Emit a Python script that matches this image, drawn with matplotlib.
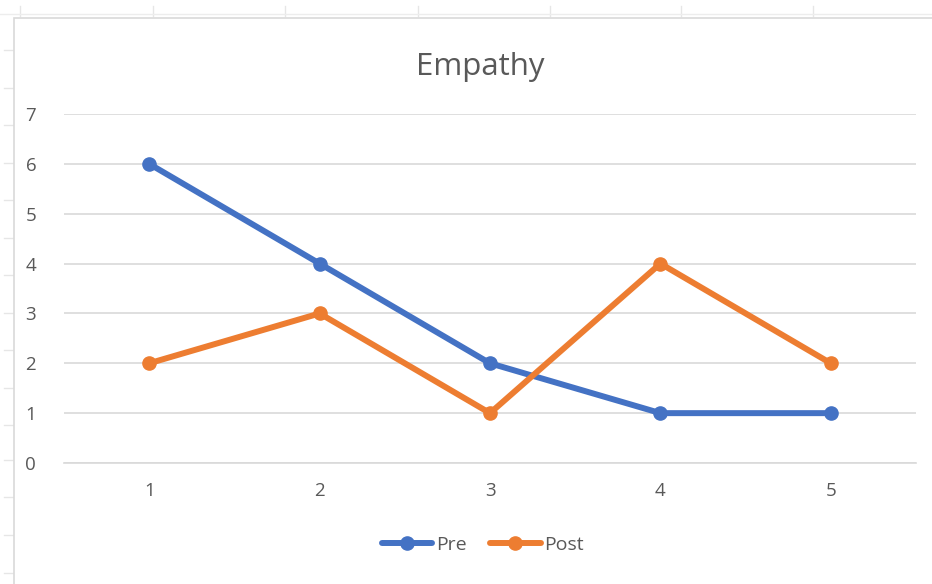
"""Empathy pre/post line chart, Excel style."""

import matplotlib
matplotlib.use("Agg")
import matplotlib.pyplot as plt
from matplotlib.lines import Line2D
from matplotlib.patches import Rectangle

categories = [1, 2, 3, 4, 5]
pre = [6, 4, 2, 1, 1]
post = [2, 3, 1, 4, 2]

BLUE = "#4472C4"
ORANGE = "#ED7D31"
TEXT = "#595959"
GRID = "#D9D9D9"

W, H = 932, 584
plt.rcParams["font.family"] = ["Open Sans", "DejaVu Sans"]

fig = plt.figure(figsize=(W / 100, H / 100), dpi=100)

# faint spreadsheet cells behind the chart
for x in [20, 153, 285, 418, 550, 681, 813]:
    fig.add_artist(Line2D([x / W, x / W], [1 - 6 / H, 1 - 16 / H],
                          color="#E6E6E6", lw=1, zorder=-3))
fig.add_artist(Line2D([0, 1], [1 - 14 / H, 1 - 14 / H], color="#EDEDED",
                      lw=1, zorder=-3))
for y in [50, 88, 125, 163, 200, 238, 275, 313, 350, 388, 425, 460, 497, 535, 573]:
    fig.add_artist(Line2D([4 / W, 14 / W], [1 - y / H, 1 - y / H],
                          color="#E6E6E6", lw=1, zorder=-3))
# chart area border
fig.add_artist(Rectangle((14 / W, -0.01), 1.0, 1 - 18 / H + 0.01,
                         transform=fig.transFigure, fill=True,
                         facecolor="white", edgecolor="#D9D9D9", lw=1.2,
                         zorder=-2))

ax = fig.add_axes([64 / W, 1 - 463 / H, (916 - 64) / W, (463 - 114) / H])
ax.set_facecolor("none")
ax.plot(categories, pre, color=BLUE, lw=4.3, marker="o", ms=9.5,
        label="Pre", solid_capstyle="round", zorder=3)
ax.plot(categories, post, color=ORANGE, lw=4.3, marker="o", ms=9.5,
        label="Post", solid_capstyle="round", zorder=3)

ax.set_xlim(0.5, 5.5)
ax.set_ylim(0, 7)
ax.set_yticks(range(0, 8))
ax.set_xticks(categories)
ax.grid(axis="y", color=GRID, lw=1.2)
ax.set_axisbelow(True)
for s in ["top", "right", "left"]:
    ax.spines[s].set_visible(False)
ax.spines["bottom"].set_color(GRID)
ax.spines["bottom"].set_linewidth(1.2)
ax.tick_params(length=0, labelsize=13.5, colors=TEXT)
ax.tick_params(axis="y", pad=20)
ax.tick_params(axis="x", pad=14)

fig.text(480 / W, 1 - 75 / H, "Empathy", ha="center", va="baseline",
         fontsize=22.5, color=TEXT)

ax.legend(loc="center", bbox_to_anchor=(483 / W, 1 - 545 / H),
          bbox_transform=fig.transFigure, ncol=2, frameon=False,
          fontsize=14, labelcolor=TEXT, handlelength=2.6,
          handletextpad=0.2, columnspacing=1.2)

fig.savefig("out.png", dpi=100)
